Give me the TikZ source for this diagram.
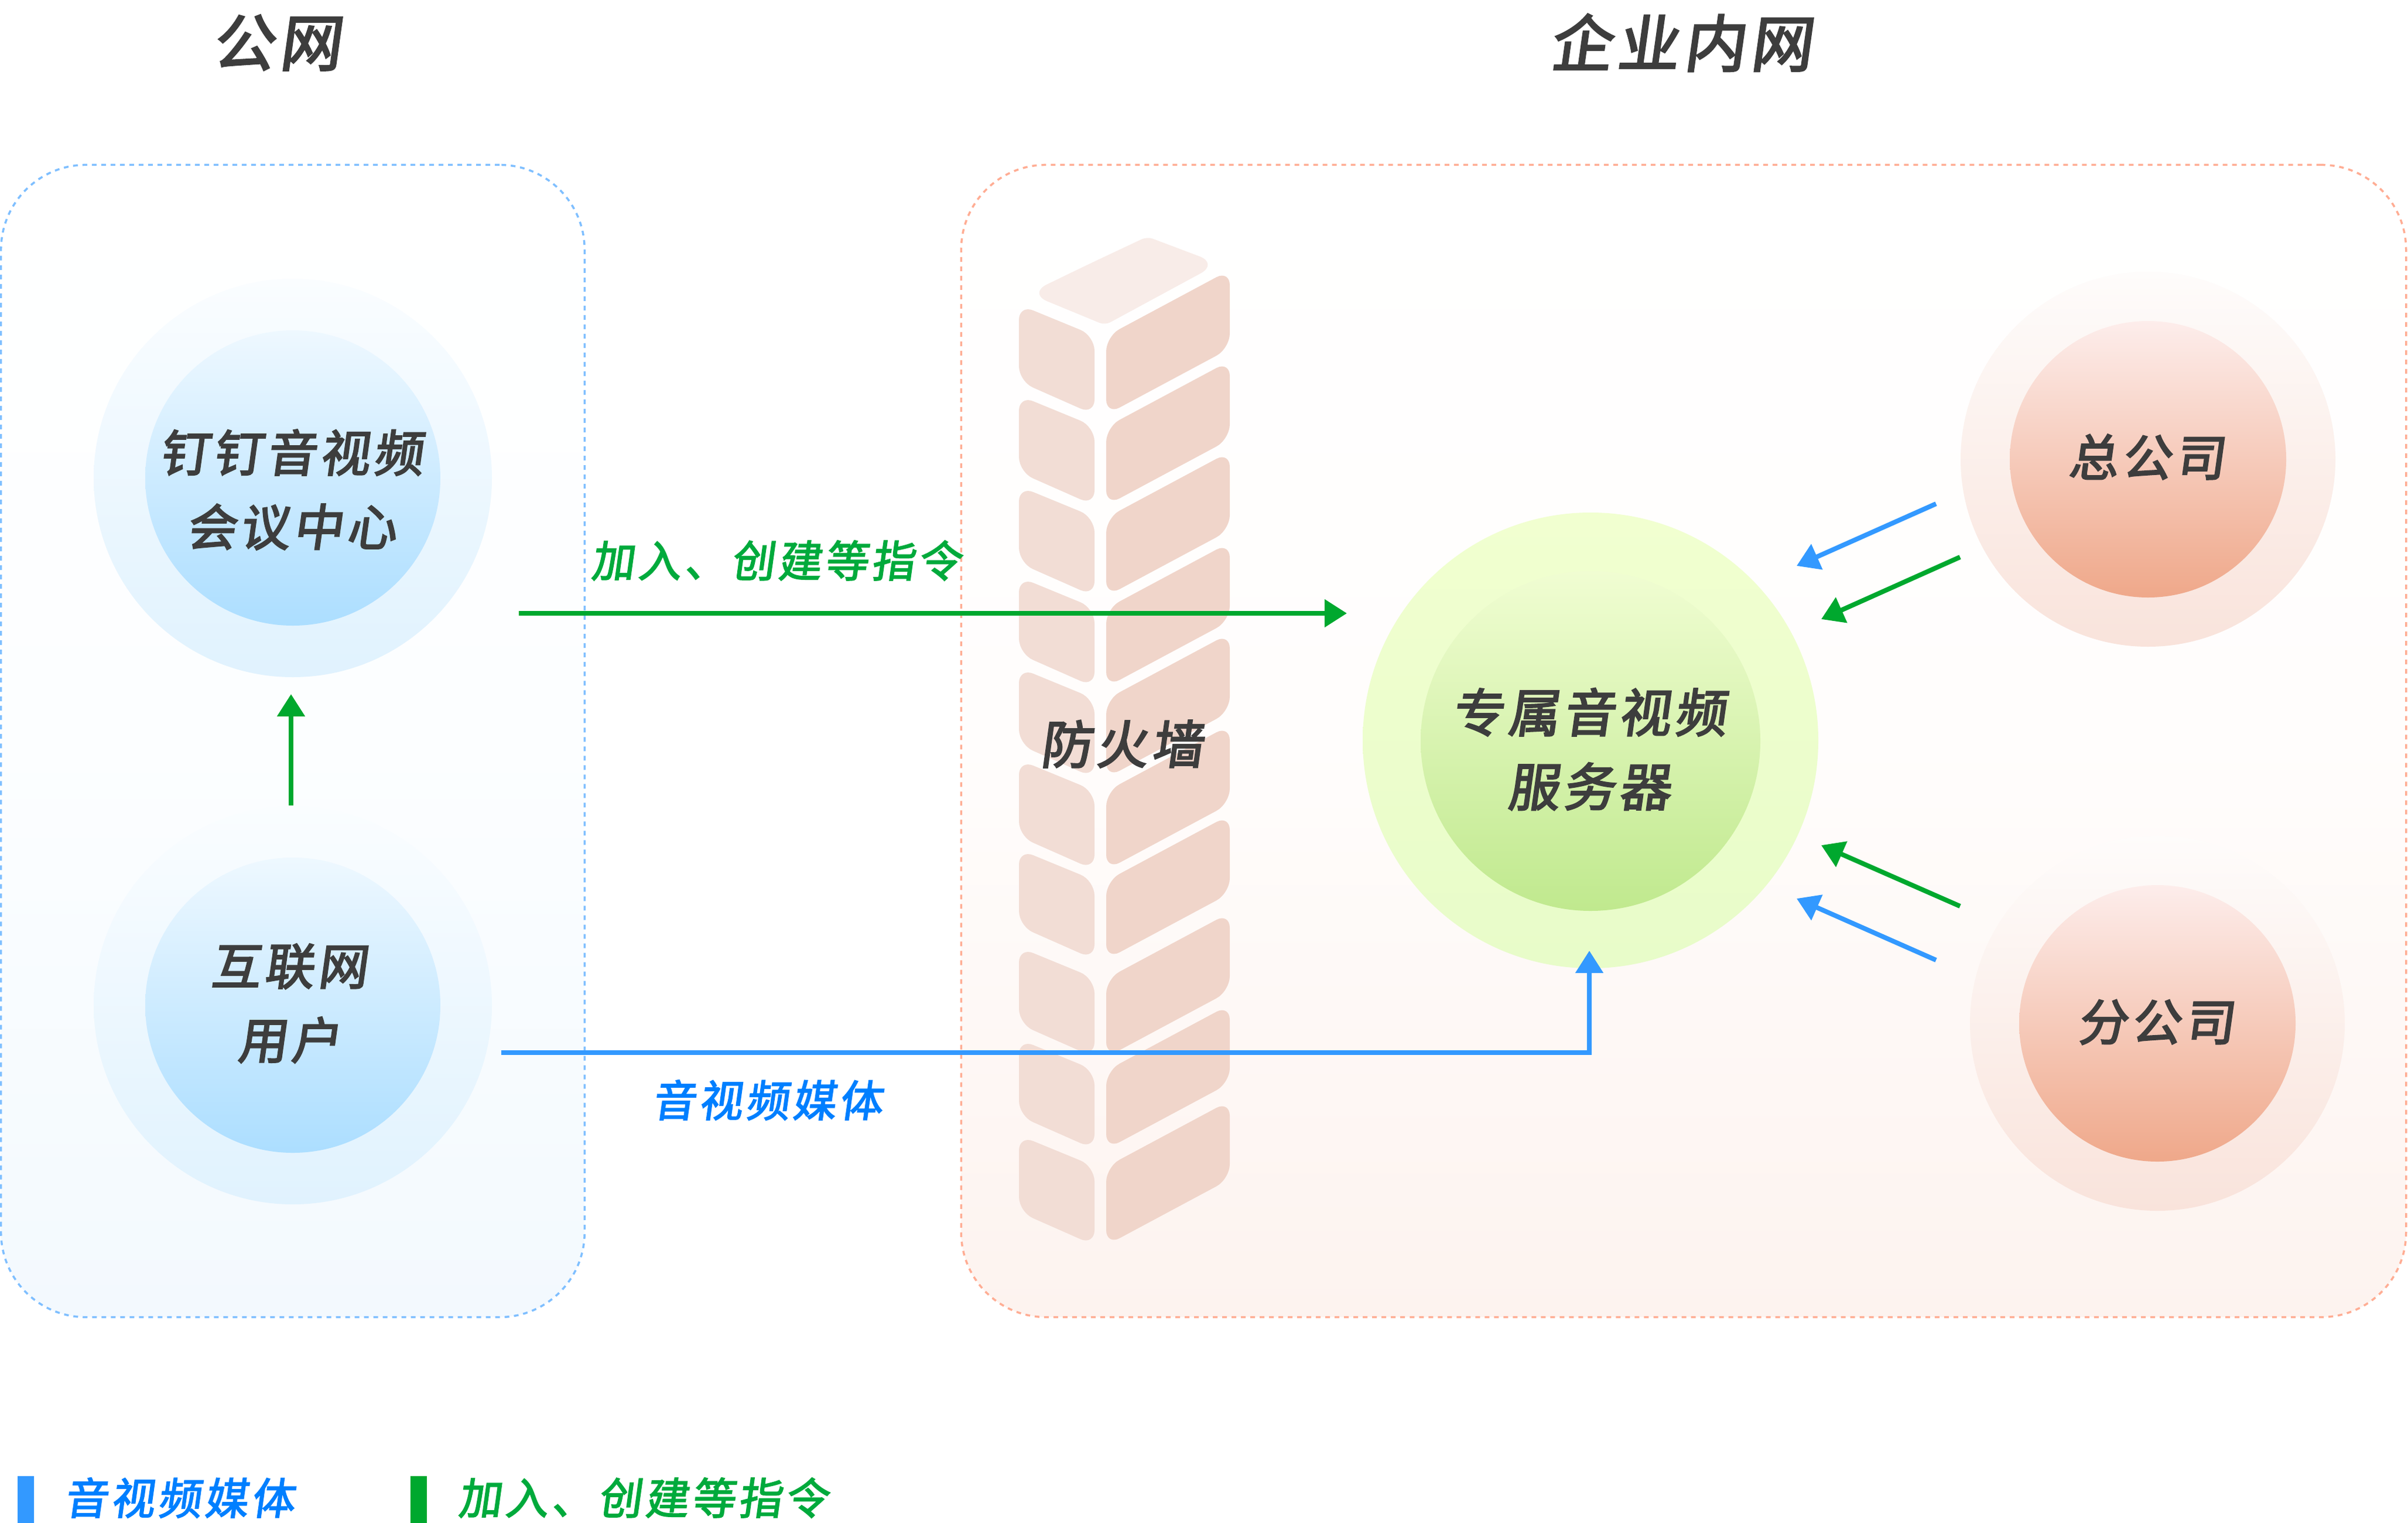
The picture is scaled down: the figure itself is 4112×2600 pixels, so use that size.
\documentclass[tikz,border=0pt]{standalone}
\usepackage{fontspec}
\usetikzlibrary{arrows.meta}
\newfontfamily\cjk[FakeSlant=0.14,FakeBold=3,LetterSpace=8]{Noto Sans CJK SC}
\newfontfamily\cjklabel[FakeSlant=0.14,FakeBold=2.4,LetterSpace=8]{Noto Sans CJK SC}
\definecolor{linkblue}{HTML}{3399FF}
\definecolor{linkgreen}{HTML}{00A82E}
\definecolor{textblue}{HTML}{007FFF}
\definecolor{textgreen}{HTML}{00AA3C}
\definecolor{textgray}{HTML}{3D3D3D}
\definecolor{edgeblue}{HTML}{7FBFFF}
\definecolor{edgered}{HTML}{FFAD94}
\definecolor{wallleft}{HTML}{F2DDD5}
\definecolor{wallright}{HTML}{F0D5CA}
\definecolor{walltop}{HTML}{F8ECE8}
\begin{document}
\begin{tikzpicture}[x=0.01cm,y=-0.01cm]
\tikzset{ >={Triangle[length=0.38cm,width=0.46cm]}, inner sep=0pt, outer sep=0pt,
  panel/.style={draw, rectangle, rounded corners=1.45cm, line width=0.035cm,
    dash pattern=on 0.08cm off 0.08cm, minimum height=19.66cm},
  disc/.style={circle, minimum size=#1*0.01cm},
  bluebig/.style={disc=680, top color={rgb,255:red,250;green,253;blue,255}, bottom color={rgb,255:red,224;green,242;blue,254}},
  bluesmall/.style={disc=504, top color={rgb,255:red,238;green,248;blue,255}, bottom color={rgb,255:red,172;green,222;blue,255}},
  redbig/.style={disc=640, top color={rgb,255:red,254;green,252;blue,251}, bottom color={rgb,255:red,249;green,227;blue,219}},
  redsmall/.style={disc=472, top color={rgb,255:red,253;green,237;blue,235}, bottom color={rgb,255:red,239;green,168;blue,138}},
  titletext/.style={text=textgray, font=\cjk\fontsize{30}{30}\selectfont},
  nametext/.style={text=textgray, align=center, font=\cjk\fontsize{24}{36}\selectfont},
  namebig/.style={text=textgray, align=center, font=\cjk\fontsize{25}{36}\selectfont},
  labeltext/.style={font=\cjklabel\fontsize{21}{24}\selectfont},
  link/.style={->, line width=0.08cm},
  bar/.style={rectangle, minimum width=0.28cm, minimum height=0.8cm},
}
\useasboundingbox (0,0) rectangle (4112,2600);

%%% Areas

% public side
\node [panel, draw=edgeblue, top color=white, bottom color={rgb,255:red,243;green,249;blue,254}, middle color={rgb,255:red,252;green,254;blue,255}, minimum width=9.96cm] (PUB) at (500,1265) { };
\node [titletext] (PUBt) at (472,73) {公网};

% company side
\node [panel, draw=edgered, top color=white, bottom color={rgb,255:red,253;green,243;blue,239}, middle color={rgb,255:red,255;green,253;blue,252}, minimum width=24.66cm] (ENT) at (2875,1265) { };
\node [titletext] (ENTt) at (2870,73) {企业内网};

%%% Firewall

\fill [walltop] (1857,452) [rounded corners=0.1cm] -- (1959,404) [rounded corners=0.35cm] -- (2081,450) [rounded corners=0.1cm] -- (1887,555) [rounded corners=0.35cm] -- (1756,501) -- cycle;
\foreach \dy in {0,155,310,465,620,777,930,1097,1254,1418} {
  \fill [rounded corners=0.26cm, wallleft] (1740,520+\dy) -- (1869,573+\dy) -- (1869,708+\dy) -- (1740,651+\dy) -- cycle;
  \fill [rounded corners=0.26cm, wallright] (1889,574+\dy) -- (2100,461+\dy) -- (2100,595+\dy) -- (1889,708+\dy) -- cycle;
}
\node [namebig] (FWt) at (1915,1270) {防火墙};

%%% Circles

% meeting centre
\node [bluebig] (MC0) at (500,816) { };
\node [bluesmall] (MC1) at (500,816) { };
\node [nametext] (MCt) at (497,836) {钉钉音视频\\会议中心};

% internet users
\node [bluebig] (US0) at (500,1716) { };
\node [bluesmall] (US1) at (500,1716) { };
\node [nametext] (USt) at (493,1713) {互联网\\用户};

% dedicated server
\node [disc=778, top color={rgb,255:red,241;green,255;blue,208}, bottom color={rgb,255:red,232;green,252;blue,201}] (SV0) at (2716,1264) { };
\node [disc=580, top color={rgb,255:red,240;green,253;blue,210}, bottom color={rgb,255:red,192;green,233;blue,142}] (SV1) at (2716,1265) { };
\node [namebig] (SVt) at (2713,1279) {专属音视频\\服务器};

% head office
\node [redbig] (HQ0) at (3668,784) { };
\node [redsmall] (HQ1) at (3668,784) { };
\node [nametext] (HQt) at (3665,780) {总公司};

% branch office
\node [redbig] (BR0) at (3684,1747) { };
\node [redsmall] (BR1) at (3684,1747) { };
\node [nametext] (BRt) at (3681,1745) {分公司};

%%% Lines

% user -> meeting centre
\coordinate (USup) at (497,1375);
\coordinate (MCin) at (497,1185);
\draw [link, linkgreen] (USup) -- (MCin);

% join, create
\coordinate (CMDs) at (886,1047);
\coordinate (CMDe) at (2300,1047);
\draw [link, linkgreen] (CMDs) -- (CMDe);
\node [labeltext, text=textgreen] (CMDt) at (1325,957) {加入、创建等指令};

% media
\coordinate (AVs) at (856,1797);
\coordinate (AVe) at (2714,1623);
\draw [link, linkblue] (AVs) -| (AVe);
\node [labeltext, text=textblue] (AVt) at (1310,1878) {音视频媒体};

% head office -> server
\coordinate (HQa) at (3306,860);
\coordinate (HQb) at (3068,966);
\draw [link, linkblue] (HQa) -- (HQb);
\coordinate (HQc) at (3347,951);
\coordinate (HQd) at (3110,1057);
\draw [link, linkgreen] (HQc) -- (HQd);

% branch office -> server
\coordinate (BRa) at (3347,1547);
\coordinate (BRb) at (3110,1443);
\draw [link, linkgreen] (BRa) -- (BRb);
\coordinate (BRc) at (3306,1639);
\coordinate (BRd) at (3068,1534);
\draw [link, linkblue] (BRc) -- (BRd);

%%% Legend

\node [bar, fill=linkblue] (LGa) at (44,2560) { };
\node [labeltext, text=textblue] (LGat) at (306,2557) {音视频媒体};
\node [bar, fill=linkgreen] (LGb) at (715,2560) { };
\node [labeltext, text=textgreen] (LGbt) at (1098,2557) {加入、创建等指令};

\end{tikzpicture}
\end{document}
